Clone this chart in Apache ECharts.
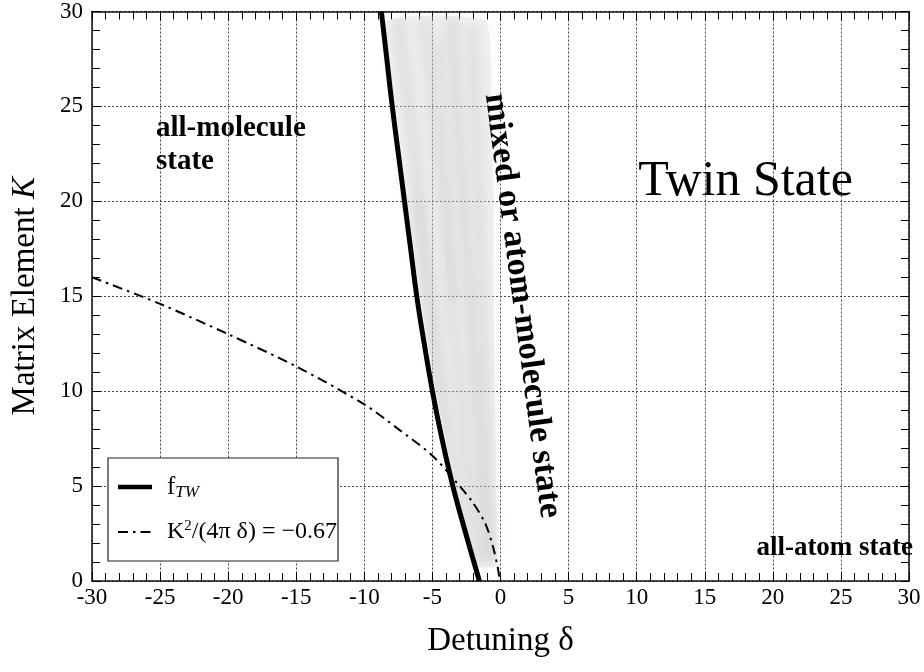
<!DOCTYPE html>
<html><head><meta charset="utf-8">
<script src="https://cdn.jsdelivr.net/npm/echarts@6/dist/echarts.min.js"></script>
<style>html,body{margin:0;padding:0;background:#fff}#c{width:924px;height:672px}</style>
</head><body><div id="c"></div>
<script>
// ---- data ----
const xTickLabels = [-30, -25, -20, -15, -10, -5, 0, 5, 10, 15, 20, 25, 30];
const yTickLabels = [0, 5, 10, 15, 20, 25, 30];
// f_TW curve (thick solid)
const ftwK     = [0, 2.5, 5, 7.5, 10, 12.5, 15, 17.5, 20, 22.5, 25, 27.5, 30];
const ftwDelta = [-1.55, -2.55, -3.5, -4.3, -5.0, -5.6, -6.15, -6.6, -7.05, -7.5, -7.95, -8.35, -8.75];
// K^2/(4 pi delta) = -0.67 curve (dash-dot)
const ccDelta = [-30, -25, -20, -15, -10, -7.5, -5, -3, -2, -1.1, -0.55, -0.2, -0.05];
const ccK     = [16.0, 14.6, 13.0, 11.3, 9.3, 8.0, 6.6, 5.0, 4.1, 3.0, 1.8, 0.7, 0];
// grey "mixed" band
const bandK     = [0.8, 5, 10, 15, 20, 25, 29.5];
const bandLeft  = [-1.9, -3.3, -4.75, -5.9, -6.85, -7.7, -8.3];
const bandRight = [-0.3, -0.3, -0.4, -0.5, -0.5, -0.7, -1.1];

const FONT = '"Liberation Serif","Times New Roman",serif';

// soft streaky texture for the band (decorative only, full-canvas so no tiling seams)
function makeTexture() {
  const W = 924, H = 672;
  const c = document.createElement('canvas');
  c.width = W; c.height = H;
  const g = c.getContext('2d');
  g.fillStyle = 'rgba(212,212,212,0.30)';
  g.fillRect(0, 0, W, H);
  g.filter = 'blur(5px)';
  g.strokeStyle = 'rgba(160,160,160,0.22)';
  g.lineCap = 'round';
  const streaks = [[398, 20, 462, 540, 7], [425, 20, 476, 560, 6], [452, 20, 486, 560, 8],
                   [472, 30, 492, 560, 6], [440, 40, 455, 300, 5], [415, 200, 440, 450, 6]];
  streaks.forEach(s => { g.lineWidth = s[4]; g.beginPath(); g.moveTo(s[0], s[1]); g.lineTo(s[2], s[3]); g.stroke(); });
  return c;
}
const texture = makeTexture();

const chart = echarts.init(document.getElementById('c'));

const baseAxis = {
  type: 'value', interval: 5,
  axisLine: { show: true, onZero: false, lineStyle: { color: '#111', width: 1.5 } },
  axisTick: { show: true, inside: true, length: 9, lineStyle: { color: '#000', width: 1 } },
  minorTick: { show: true, splitNumber: 5, length: 8, lineStyle: { color: '#000', width: 1 } },
  minorSplitLine: { show: false }
};

chart.setOption({
  animation: false,
  backgroundColor: '#fff',
  grid: { left: 92, right: 15, top: 9, bottom: 91, containLabel: false },
  xAxis: [
    Object.assign({}, baseAxis, {
      min: xTickLabels[0], max: xTickLabels[xTickLabels.length - 1], position: 'bottom',
      splitLine: { show: true, lineStyle: { color: '#444', width: 1, type: [2, 2] } },
      axisLabel: { color: '#000', fontFamily: FONT, fontSize: 23, margin: 5 },
      name: 'Detuning δ', nameLocation: 'middle', nameGap: 44,
      nameTextStyle: { color: '#000', fontFamily: FONT, fontSize: 33 }
    }),
    Object.assign({}, baseAxis, {
      min: xTickLabels[0], max: xTickLabels[xTickLabels.length - 1], position: 'top',
      splitLine: { show: false }, axisLabel: { show: false }
    })
  ],
  yAxis: [
    Object.assign({}, baseAxis, {
      min: yTickLabels[0], max: yTickLabels[yTickLabels.length - 1], position: 'left',
      splitLine: { show: true, lineStyle: { color: '#444', width: 1, type: [2, 2] } },
      axisLabel: { color: '#000', fontFamily: FONT, fontSize: 23, margin: 9 },
      name: '{a|Matrix Element }{b|K}', nameLocation: 'middle', nameGap: 50,
      nameTextStyle: {
        color: '#000', fontFamily: FONT, fontSize: 33,
        rich: {
          a: { fontFamily: FONT, fontSize: 33, color: '#000' },
          b: { fontFamily: FONT, fontSize: 33, fontStyle: 'italic', color: '#000' }
        }
      }
    }),
    Object.assign({}, baseAxis, {
      min: yTickLabels[0], max: yTickLabels[yTickLabels.length - 1], position: 'right',
      splitLine: { show: false }, axisLabel: { show: false }
    })
  ],
  series: [
    {
      type: 'custom', xAxisIndex: 0, yAxisIndex: 0, z: 1, silent: true,
      data: [[bandLeft[0], bandK[0]]],
      renderItem: function (params, api) {
        const pts = [];
        for (let i = 0; i < bandK.length; i++) pts.push(api.coord([bandLeft[i], bandK[i]]));
        for (let i = bandK.length - 1; i >= 0; i--) pts.push(api.coord([bandRight[i], bandK[i]]));
        return {
          type: 'polygon',
          shape: { points: pts, smooth: 0.15 },
          style: { fill: { image: texture, repeat: 'no-repeat' }, shadowBlur: 12, shadowColor: 'rgba(190,190,190,0.45)' }
        };
      }
    },
    {
      name: 'ftw', type: 'line', xAxisIndex: 0, yAxisIndex: 0, z: 5,
      data: ftwDelta.map((d, i) => [d, ftwK[i]]),
      smooth: 0.4, symbol: 'none',
      lineStyle: { color: '#000', width: 5 }
    },
    {
      name: 'cc', type: 'line', xAxisIndex: 0, yAxisIndex: 0, z: 4,
      data: ccDelta.map((d, i) => [d, ccK[i]]),
      smooth: 0.3, symbol: 'none',
      lineStyle: { color: '#000', width: 2, type: [10, 5, 2.5, 5] }
    }
  ]
});

// ---- annotations placed in data coordinates ----
function px(d, k) { return chart.convertToPixel({ xAxisIndex: 0, yAxisIndex: 0 }, [d, k]); }
const pMol  = px(-25.3, 24.7);
const pTwin = px(18.0, 21.0);
const pMix  = px(1.6, 14.5);
const pAtom = px(30.3, 1.75);

chart.setOption({
  graphic: [
    { type: 'text', x: pMol[0], y: pMol[1], z: 20,
      style: { text: 'all-molecule\nstate', fontFamily: FONT, fontWeight: 'bold', fontSize: 29, lineHeight: 33,
               fill: '#000', align: 'left', verticalAlign: 'top' } },
    { type: 'text', x: pTwin[0], y: pTwin[1], z: 20,
      style: { text: 'Twin State', fontFamily: FONT, fontSize: 50, fill: '#000', align: 'center', verticalAlign: 'middle' } },
    { type: 'text', x: pMix[0], y: pMix[1], z: 20, rotation: -82.5 * Math.PI / 180,
      style: { text: 'mixed or atom-molecule state', fontFamily: FONT, fontWeight: 'bold', fontSize: 34,
               fill: '#000', align: 'center', verticalAlign: 'middle' } },
    { type: 'text', x: pAtom[0], y: pAtom[1], z: 20,
      style: { text: 'all-atom state', fontFamily: FONT, fontWeight: 'bold', fontSize: 27, fill: '#000',
               align: 'right', verticalAlign: 'middle' } },
    // legend box
    { type: 'group', x: 108, y: 458, z: 30, children: [
      { type: 'rect', shape: { x: 0, y: 0, width: 230, height: 103 }, style: { fill: '#fff', stroke: '#222', lineWidth: 1.2 } },
      { type: 'line', shape: { x1: 10, y1: 29, x2: 44, y2: 29 }, style: { stroke: '#000', lineWidth: 4.5 } },
      { type: 'text', x: 59, y: 29, style: {
          text: '{n|f}{s|TW}', fill: '#000', verticalAlign: 'middle', align: 'left',
          rich: { n: { fontFamily: FONT, fontSize: 25, fill: '#000' },
                  s: { fontFamily: FONT, fontSize: 17, fontStyle: 'italic', fill: '#000', padding: [12, 0, 0, 0] } } } },
      { type: 'line', shape: { x1: 10, y1: 74, x2: 44, y2: 74 }, style: { stroke: '#000', lineWidth: 2, lineDash: [10, 5, 2.5, 5] } },
      { type: 'text', x: 59, y: 74, style: {
          text: '{n|K}{p|2}{n|/(4π δ) = −0.67}', fill: '#000', verticalAlign: 'middle', align: 'left',
          rich: { n: { fontFamily: FONT, fontSize: 24, fill: '#000' },
                  p: { fontFamily: FONT, fontSize: 15, fill: '#000', padding: [0, 0, 12, 0] } } } }
    ] }
  ]
});
</script>
</body></html>
